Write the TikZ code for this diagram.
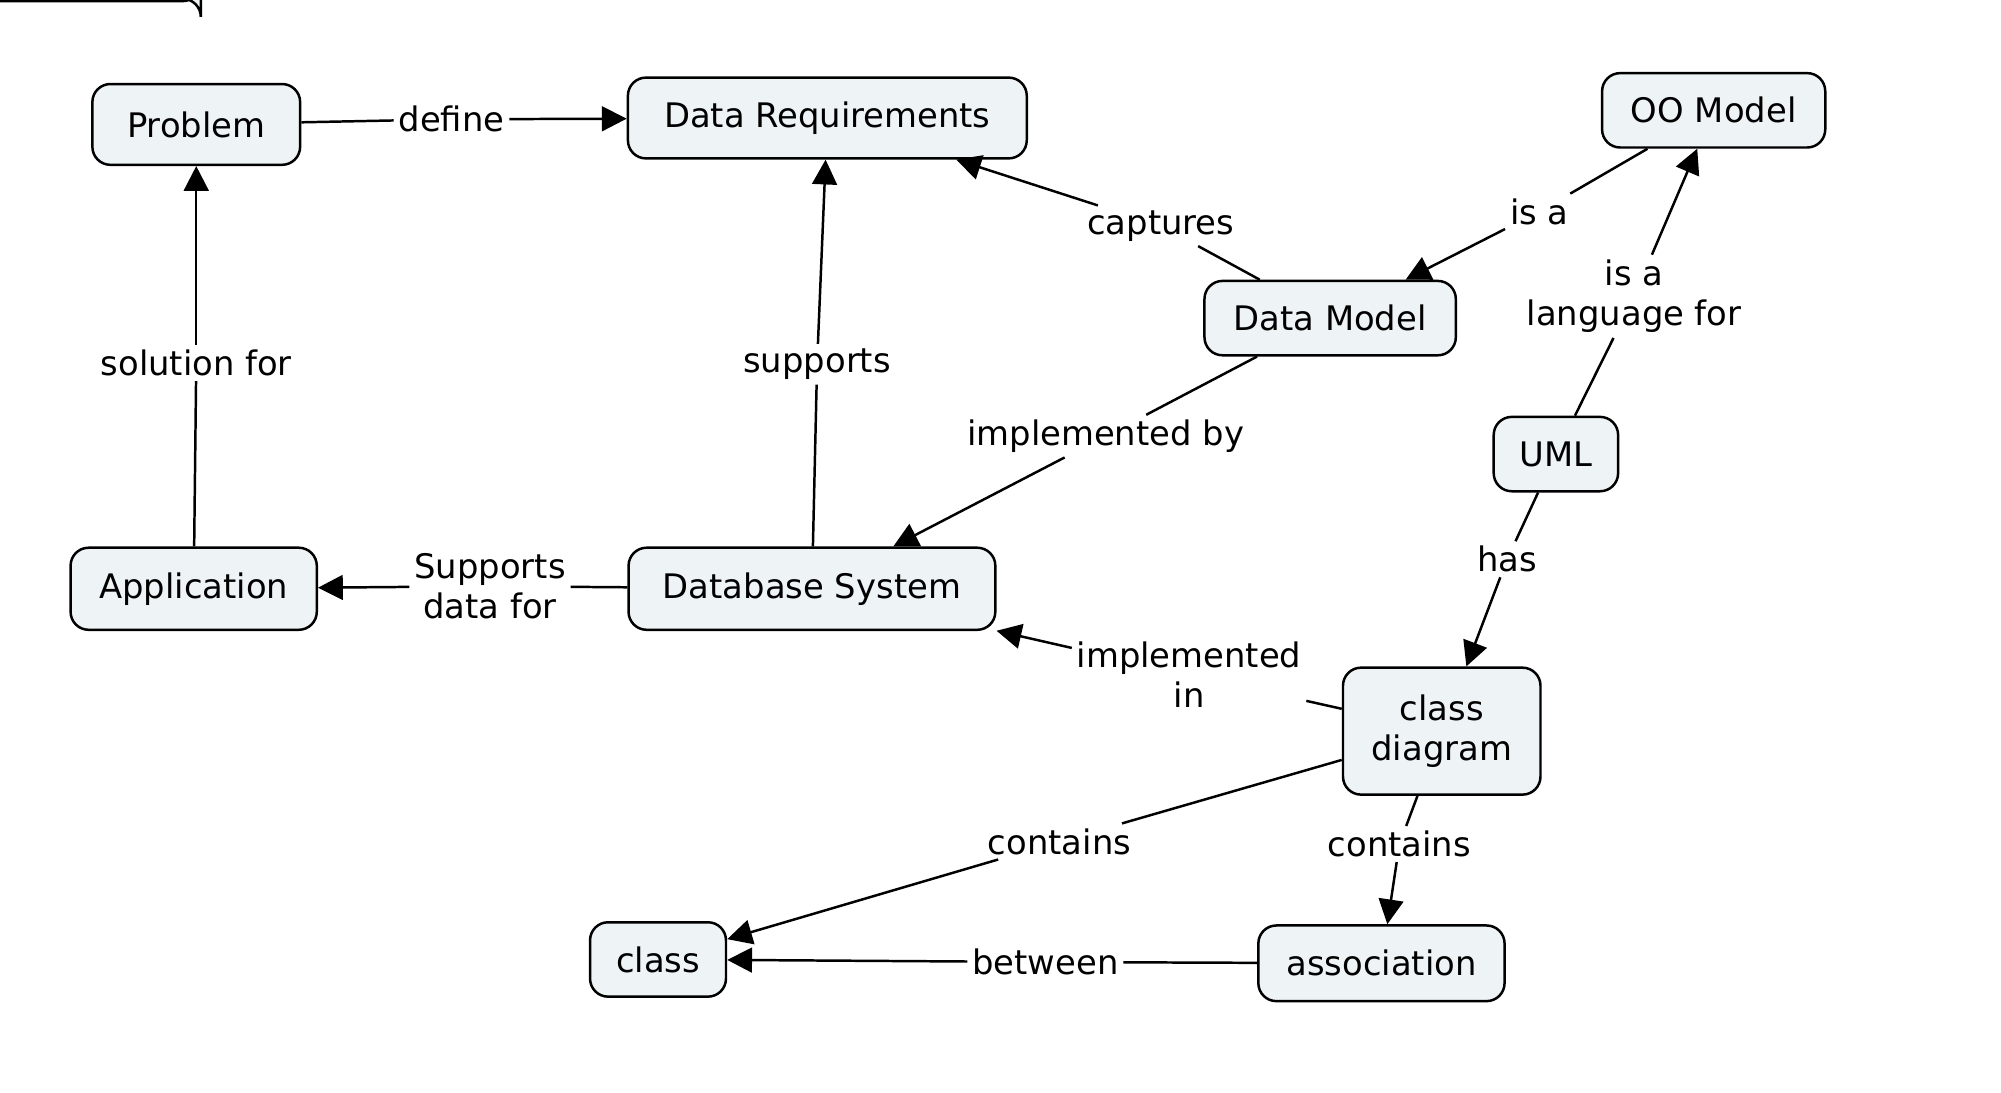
\documentclass[tikz,border=0pt]{standalone}
\usepackage{fontspec}
\setmainfont{DejaVu Sans}
\usetikzlibrary{arrows.meta,positioning}
\definecolor{boxfill}{HTML}{EEF3F5}
\begin{document}
\begin{tikzpicture}[x=0.02cm,y=-0.02cm,
    concept/.style={draw, rounded corners=8pt, fill=boxfill, line width=1.1pt,
        font=\fontsize{15}{18}\selectfont, align=center, inner sep=0pt},
    lbl/.style={font=\fontsize{15}{18}\selectfont, align=center, inner sep=2pt, fill=white},
    link/.style={line width=1.1pt},
    arr/.style={link, -{Triangle[length=11pt,width=11pt]}}]
    \useasboundingbox (0,0) rectangle (1560,852);

    % concepts
    \node[concept, minimum width=162\pgflinewidth, text width=0pt] at (0,0) {}; % dummy removed below
    \node[concept, minimum width=3.24cm, minimum height=1.26cm] (problem) at (153,97) {Problem};
    \node[concept, minimum width=6.22cm, minimum height=1.26cm] (datareq) at (645,92) {Data Requirements};
    \node[concept, minimum width=3.48cm, minimum height=1.16cm] (oomodel) at (1336,86) {OO Model};
    \node[concept, minimum width=3.92cm, minimum height=1.16cm] (datamodel) at (1037,248) {Data Model};
    \node[concept, minimum width=1.94cm, minimum height=1.16cm] (uml) at (1213,354) {UML};
    \node[concept, minimum width=3.84cm, minimum height=1.28cm] (application) at (151,459) {Application};
    \node[concept, minimum width=5.72cm, minimum height=1.28cm] (dbsystem) at (633,459) {Database System};
    \node[concept, minimum width=3.08cm, minimum height=1.98cm] (classdiag) at (1124,570) {class\\diagram};
    \node[concept, minimum width=2.12cm, minimum height=1.16cm] (class) at (513,748) {class};
    \node[concept, minimum width=3.84cm, minimum height=1.18cm] (association) at (1077,751) {association};

    % link labels
    \node[lbl] (define) at (352,93) {define};
    \node[lbl] (solution) at (153,283) {solution for};
    \node[lbl] (supports) at (637,284) {supports};
    \node[lbl] (captures) at (905,176) {captures};
    \node[lbl] (isa) at (1200,165) {is a};
    \node[lbl] (langfor) at (1274,231) {is a\\language for};
    \node[lbl] (implby) at (862,340) {implemented by};
    \node[lbl] (suppdata) at (382,457) {Supports\\data for};
    \node[lbl] (has) at (1175,436) {has};
    \node[lbl] (implin) at (927,526) {implemented\\in};
    \node[lbl] (contains1) at (826,656) {contains};
    \node[lbl] (contains2) at (1091,658) {contains};
    \node[lbl] (between) at (815,750) {between};

    % links
    \draw[link] (problem) -- (define);
    \draw[arr] (define) -- (datareq);
    \draw[link] (application) -- (solution);
    \draw[arr] (solution) -- (problem);
    \draw[link] (dbsystem) -- (supports);
    \draw[arr] (supports) -- (datareq);
    \draw[link] (datamodel) -- (captures);
    \draw[arr] (captures) -- (datareq);
    \draw[link] (oomodel) -- (isa);
    \draw[arr] (isa) -- (datamodel);
    \draw[link] (uml) -- (langfor);
    \draw[arr] (langfor) -- (oomodel);
    \draw[link] (datamodel) -- (implby);
    \draw[arr] (implby) -- (dbsystem);
    \draw[link] (dbsystem) -- (suppdata);
    \draw[arr] (suppdata) -- (application);
    \draw[link] (uml) -- (has);
    \draw[arr] (has) -- (classdiag);
    \draw[link] (classdiag) -- (implin);
    \draw[arr] (implin) -- (dbsystem);
    \draw[link] (classdiag) -- (contains1);
    \draw[arr] (contains1) -- (class);
    \draw[link] (classdiag) -- (contains2);
    \draw[arr] (contains2) -- (association);
    \draw[link] (association) -- (between);
    \draw[arr] (between) -- (class);
\end{tikzpicture}
\end{document}
